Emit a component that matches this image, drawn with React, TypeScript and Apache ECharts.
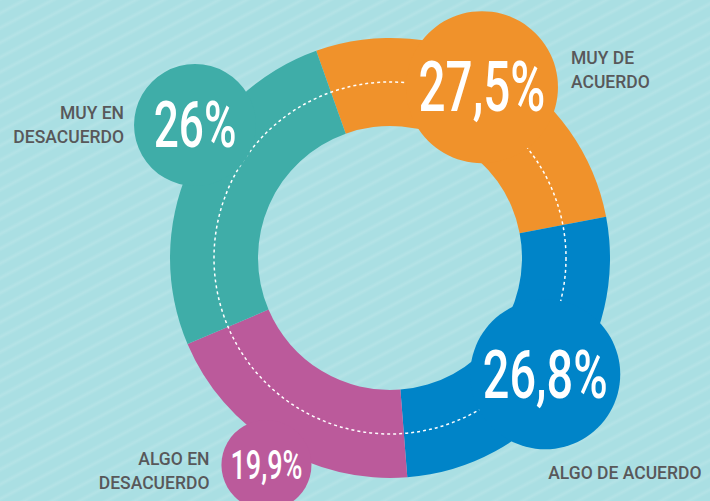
import React, { useEffect, useRef } from "react";
import * as echarts from "echarts";

// ---- data ----
const categories = ["MUY DE\nACUERDO", "ALGO DE ACUERDO", "ALGO EN\nDESACUERDO", "MUY EN\nDESACUERDO"];
const values = [27.5, 26.8, 19.9, 26];
const valueLabels = ["27,5%", "26,8%", "19,9%", "26%"];

// ---- styles / layout ----
const colors = ["#F0922B", "#0084C8", "#BB5A9B", "#3FADA8"];
const CX = 390;
const CY = 258;
const R_OUT = 220;
const R_IN = 132;
const R_DASH = 176;
const R_POLAR = 300;
const START_ANGLE = 109.6;
const bubbleDist = [194, 194, 241, 236];
const bubbleAngleOffset = [1.5, 0.5, 0.4, -10.6];
const bubbleSize = [152, 150, 90, 122];
const numberFontSize = [70, 67, 41, 65];
const numberScaleX = [0.68, 0.7, 0.66, 0.68];
const labelPos: [number, number, string][] = [
  [165, 59, "left"],
  [78, 174, "left"],
  [-12, 51.5, "right"],
  [-10, 61, "right"],
];

export default function App() {
  const ref = useRef<HTMLDivElement>(null);
  useEffect(() => {
    if (!ref.current) return;
    const chart = echarts.init(ref.current, undefined, { renderer: "svg" });
    const total = values.reduce((a, b) => a + b, 0);
    let acc = 0;
    const scatterData = values.map((v, i) => {
      const span = (v / total) * 360;
      const mid = START_ANGLE - acc - span / 2;
      acc += span;
      let ang = (mid + bubbleAngleOffset[i]) % 360;
      if (ang < 0) ang += 360;
      return {
        value: [bubbleDist[i], ang],
        symbolSize: bubbleSize[i],
        itemStyle: { color: colors[i], opacity: 1 },
        label: {
          show: true,
          formatter: categories[i],
          position: [labelPos[i][0], labelPos[i][1]],
          align: labelPos[i][2],
          verticalAlign: "middle",
          color: "#58585a",
          fontFamily: "Roboto",
          fontWeight: 500,
          fontSize: 17.5,
          lineHeight: 24,
        },
      };
    });
    chart.setOption({
      animation: false,
      backgroundColor: "transparent",
      polar: { center: [CX, CY], radius: R_POLAR },
      angleAxis: { type: "value", min: 0, max: 360, startAngle: 0, clockwise: false, show: false },
      radiusAxis: { type: "value", min: 0, max: R_POLAR, show: false },
      series: [
        {
          type: "pie",
          z: 1,
          silent: true,
          center: [CX, CY],
          radius: [R_IN, R_OUT],
          startAngle: START_ANGLE,
          clockwise: true,
          label: { show: false },
          labelLine: { show: false },
          emphasis: { disabled: true },
          data: values.map((v, i) => ({ value: v, name: categories[i], itemStyle: { color: colors[i] } })),
        },
        {
          type: "scatter",
          coordinateSystem: "polar",
          z: 5,
          silent: true,
          symbol: "circle",
          emphasis: { disabled: true },
          data: scatterData,
        },
      ],
      graphic: [
        {
          id: "dash",
          type: "circle",
          z: 3,
          silent: true,
          shape: { cx: CX, cy: CY, r: R_DASH },
          style: { fill: "none", stroke: "#ffffff", lineWidth: 1.5, lineDash: [3, 3] },
        },
      ],
    });
    const texts = scatterData.map((d, i) => {
      const p = chart.convertToPixel({ seriesIndex: 1 }, d.value) as number[];
      return {
        id: "num" + i,
        type: "text",
        z: 10,
        silent: true,
        x: p[0],
        y: p[1],
        scaleX: numberScaleX[i],
        style: {
          text: valueLabels[i],
          fill: "#ffffff",
          font: `500 ${numberFontSize[i]}px Roboto`,
          align: "center",
          verticalAlign: "middle",
        },
      };
    });
    chart.setOption({ graphic: texts });
    return () => chart.dispose();
  }, []);
  return (
    <div
      ref={ref}
      style={{
        position: "fixed",
        left: 0,
        top: 0,
        width: 710,
        height: 501,
        backgroundColor: "#aadfe3",
        backgroundImage:
          "repeating-linear-gradient(-28deg, rgba(255,255,255,0) 0px, rgba(255,255,255,0) 7px, rgba(255,255,255,0.12) 10px, rgba(255,255,255,0) 13px)",
      }}
    />
  );
}
